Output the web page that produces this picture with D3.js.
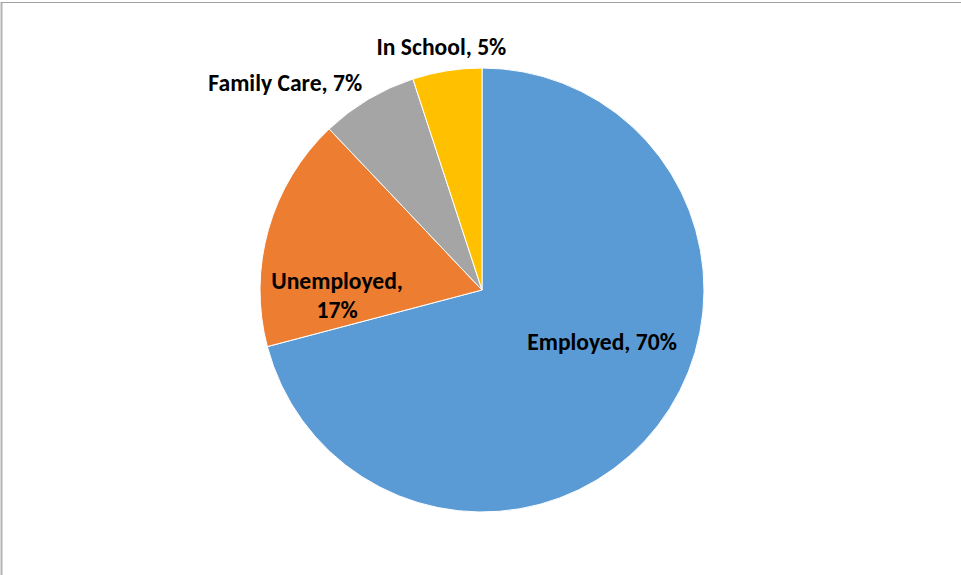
<!DOCTYPE html>
<html>
<head>
<meta charset="utf-8">
<script src="https://cdn.jsdelivr.net/npm/d3@7"></script>
<style>
  html, body { margin: 0; padding: 0; background: #fff; }
  svg { display: block; }
  .lbl { font-family: Carlito, Calibri, Lato, sans-serif; font-weight: 700; font-size: 23.6px; fill: #000; }
</style>
</head>
<body>
<svg id="chart" width="961" height="575"></svg>
<script>
// Activity status shares (percent)
const categories = ["Employed", "Unemployed", "Family Care", "In School"];
const values = [70.4, 16.9, 7.0, 5.0];
const labelText = ["Employed, 70%", "Unemployed,|17%", "Family Care, 7%", "In School, 5%"];
const colors = ["#5B9BD5", "#ED7D31", "#A5A5A5", "#FFC000"];

const svg = d3.select("#chart");
const W = 961, H = 575;

// chart frame
svg.append("rect").attr("x", 0).attr("y", 0).attr("width", W).attr("height", H).attr("fill", "#fff");
svg.append("line").attr("x1", 1.5).attr("x2", 1.5).attr("y1", 2).attr("y2", H)
  .attr("stroke", "#b3b3b3").attr("stroke-width", 2);
svg.append("line").attr("x1", 1).attr("x2", W).attr("y1", 2.5).attr("y2", 2.5)
  .attr("stroke", "#a3a3a3").attr("stroke-width", 1);

const cx = 482, cy = 290, R = 222;
const data = categories.map((c, i) => ({ cat: c, value: values[i], label: labelText[i], color: colors[i] }));

const pie = d3.pie().sort(null).value(d => d.value);
const arc = d3.arc().innerRadius(0).outerRadius(R);
const arcs = pie(data);

const g = svg.append("g").attr("transform", `translate(${cx},${cy})`);
g.selectAll("path").data(arcs).enter().append("path")
  .attr("d", arc)
  .attr("fill", d => d.data.color)
  .attr("stroke", "#fff")
  .attr("stroke-width", 1);

// label anchors: centroid at a per-slice radius, nudged to sit clear of edges
const labelRadius = [0.62, 0.73, 1.22, 1.16];
const nudge = [[11, -32], [11, 50], [-58, 25], [0, 11]];

arcs.forEach((a, i) => {
  const r = R * labelRadius[i];
  const p = d3.arc().innerRadius(r).outerRadius(r).centroid(a);
  const x = p[0] + nudge[i][0], y = p[1] + nudge[i][1];
  const lines = a.data.label.split("|");
  const lh = 29;
  const y0 = y - (lines.length - 1) * lh / 2;
  const t = g.append("text").attr("class", "lbl").attr("text-anchor", "middle");
  lines.forEach((ln, k) => {
    t.append("tspan").attr("x", x).attr("y", y0 + k * lh).attr("dy", "0.35em").text(ln);
  });
});
</script>
</body>
</html>
